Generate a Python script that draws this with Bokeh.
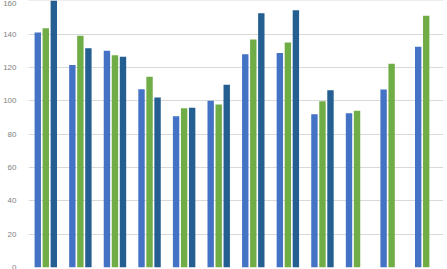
from bokeh.plotting import figure
from bokeh.models import Range1d, FixedTicker, ColumnDataSource
from bokeh.embed import file_html
from bokeh.resources import INLINE

categories = ["Jan", "Feb", "Mar", "Apr", "May", "Jun", "Jul", "Aug", "Sep", "Oct", "Nov", "Dec"]
series1 = [141, 121.5, 130, 107, 90.7, 100, 128, 128.7, 92, 92.5, 106.8, 132.5]
series2 = [143.5, 139, 127.4, 114.4, 95.5, 97.8, 136.8, 135, 99.8, 94, 122.2, 151]
series3 = [165, 131.6, 126.4, 102, 95.8, 109.6, 152.5, 154.3, 106.4, None, None, None]
y_ticks = [0, 20, 40, 60, 80, 100, 120, 140, 160]

colors = ["#4472C4", "#70AD47", "#255E91"]
offsets = [-0.232, 0.0, 0.232]

p = figure(width=447, height=269, output_backend="svg", toolbar_location=None,
           x_range=Range1d(-0.5, len(categories) - 0.5), y_range=Range1d(0, 160.2),
           min_border_left=26, min_border_right=4, min_border_top=0, min_border_bottom=2)
p.outline_line_color = None
p.background_fill_color = "white"
p.border_fill_color = "white"

for vals, col, off in zip([series1, series2, series3], colors, offsets):
    xs = [i + off for i, v in enumerate(vals) if v is not None]
    tops = [v for v in vals if v is not None]
    src = ColumnDataSource(dict(x=xs, top=tops))
    p.vbar(x="x", top="top", width=0.185, bottom=0, source=src, fill_color=col, line_color=None)

p.xaxis.visible = False
p.xgrid.grid_line_color = None
p.ygrid.grid_line_color = "#d9d9d9"
p.ygrid.grid_line_width = 1
p.yaxis.ticker = FixedTicker(ticks=y_ticks)
p.yaxis.axis_line_color = None
p.yaxis.major_tick_line_color = None
p.yaxis.minor_tick_line_color = None
p.yaxis.major_tick_out = 0
p.yaxis.major_tick_in = 0
p.yaxis.major_label_standoff = 12
p.yaxis.major_label_text_font = "Liberation Sans"
p.yaxis.major_label_text_font_size = "8px"
p.yaxis.major_label_text_color = "#7f7f7f"

open("out.html", "w").write(file_html(p, INLINE))
